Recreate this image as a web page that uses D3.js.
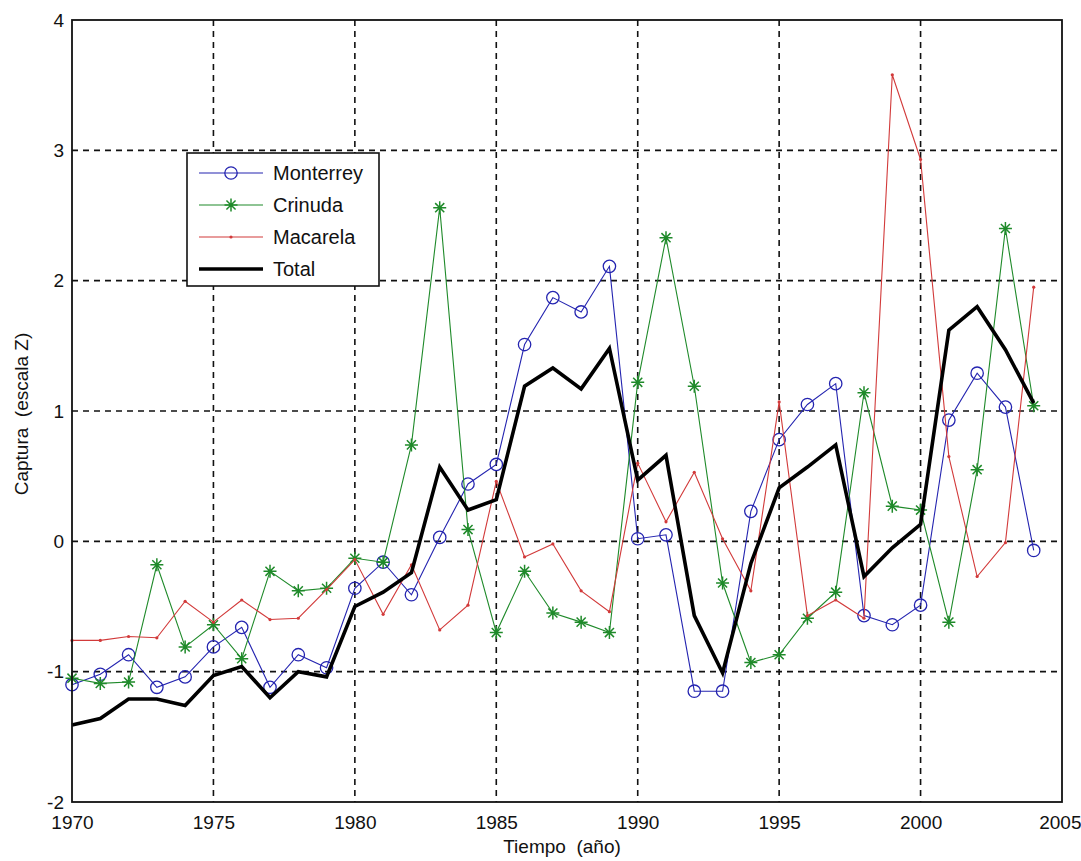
<!DOCTYPE html>
<html>
<head>
<meta charset="utf-8">
<script src="https://cdn.jsdelivr.net/npm/d3@7"></script>
<style>
  html, body { margin: 0; padding: 0; background: #ffffff; }
  svg { display: block; font-family: Arial, "Liberation Sans", sans-serif; }
</style>
</head>
<body>
<svg id="chart" width="1081" height="861"></svg>
<script>
// ---- data ----
const years = d3.range(1970, 2005);
const monterrey = [-1.10,-1.02,-0.87,-1.12,-1.04,-0.81,-0.66,-1.12,-0.87,-0.97,-0.36,-0.16,-0.41,0.03,0.44,0.59,1.51,1.87,1.76,2.11,0.02,0.05,-1.15,-1.15,0.23,0.78,1.05,1.21,-0.57,-0.64,-0.49,0.93,1.29,1.03,-0.07];
const crinuda = [-1.05,-1.09,-1.08,-0.18,-0.81,-0.64,-0.90,-0.23,-0.38,-0.36,-0.13,-0.16,0.74,2.56,0.09,-0.70,-0.23,-0.55,-0.62,-0.70,1.22,2.33,1.19,-0.32,-0.93,-0.87,-0.59,-0.39,1.14,0.27,0.24,-0.62,0.55,2.40,1.04];
const macarela = [-0.76,-0.76,-0.73,-0.74,-0.46,-0.62,-0.45,-0.60,-0.59,-0.37,-0.14,-0.56,-0.18,-0.68,-0.49,0.46,-0.12,-0.02,-0.38,-0.54,0.60,0.15,0.53,0.02,-0.38,1.07,-0.57,-0.45,-0.59,3.58,2.93,0.65,-0.27,-0.01,1.95];
const total = [-1.41,-1.36,-1.21,-1.21,-1.26,-1.03,-0.96,-1.20,-1.00,-1.04,-0.50,-0.39,-0.24,0.57,0.24,0.32,1.19,1.33,1.17,1.48,0.47,0.66,-0.57,-1.01,-0.17,0.41,0.57,0.74,-0.27,-0.05,0.13,1.62,1.80,1.47,1.06];
const xTicks = [1970, 1975, 1980, 1985, 1990, 1995, 2000, 2005];
const yTicks = [-2, -1, 0, 1, 2, 3, 4];
const seriesNames = ["Monterrey", "Crinuda", "Macarela", "Total"];
const xLabel = "Tiempo  (año)";
const yLabel = "Captura  (escala Z)";

// ---- layout ----
const L = 72, R = 1062, T = 20, B = 802;
const svg = d3.select("#chart");
const x = d3.scaleLinear().domain([1970, 2005]).range([L, R]);
const y = d3.scaleLinear().domain([-2, 4]).range([B, T]);

const styles = {
  Monterrey: { color: "#2424b0", width: 1.1, marker: "circle" },
  Crinuda:   { color: "#1f8a2a", width: 1.1, marker: "star" },
  Macarela:  { color: "#d23a3a", width: 1.1, marker: "dot" },
  Total:     { color: "#000000", width: 3.6, marker: "none" }
};
const dataBy = { Monterrey: monterrey, Crinuda: crinuda, Macarela: macarela, Total: total };

// grid
const grid = svg.append("g");
grid.selectAll("line.gx").data(xTicks.slice(1, -1)).join("line")
  .attr("x1", d => x(d)).attr("x2", d => x(d)).attr("y1", T).attr("y2", B)
  .attr("stroke", "#111").attr("stroke-width", 1.6).attr("stroke-dasharray", "6,5");
grid.selectAll("line.gy").data(yTicks.slice(1, -1)).join("line")
  .attr("y1", d => y(d)).attr("y2", d => y(d)).attr("x1", L).attr("x2", R)
  .attr("stroke", "#111").attr("stroke-width", 1.6).attr("stroke-dasharray", "6,5");

// axes
const xAxis = d3.axisBottom(x).tickValues(xTicks).tickFormat(d => String(d)).tickSize(0).tickPadding(14);
const yAxis = d3.axisLeft(y).tickValues(yTicks).tickFormat(d => String(d)).tickSize(0).tickPadding(8);
const gx = svg.append("g").attr("transform", `translate(0,${B})`).call(xAxis);
const gy = svg.append("g").attr("transform", `translate(${L},0)`).call(yAxis);
[gx, gy].forEach(g => {
  g.select(".domain").remove();
  g.selectAll("text").attr("font-size", 19).attr("fill", "#111")
    .attr("font-family", "Arial, 'Liberation Sans', sans-serif");
});
// keep the last x label inside the window
gx.selectAll(".tick").filter(d => d === 2005).select("text").attr("text-anchor", "end").attr("x", 19);

// series
const line = d3.line().x((d, i) => x(years[i])).y(d => y(d));
const starPath = r => `M${-r},0L${r},0M0,${-r}L0,${r}M${-r*0.7},${-r*0.7}L${r*0.7},${r*0.7}M${-r*0.7},${r*0.7}L${r*0.7},${-r*0.7}`;

function drawMarker(g, kind, color, cx, cy) {
  if (kind === "circle") {
    g.append("circle").attr("cx", cx).attr("cy", cy).attr("r", 6.2)
      .attr("fill", "none").attr("stroke", color).attr("stroke-width", 1.3);
  } else if (kind === "star") {
    g.append("path").attr("transform", `translate(${cx},${cy})`).attr("d", starPath(6.5))
      .attr("stroke", color).attr("stroke-width", 1.5).attr("fill", "none");
  } else if (kind === "dot") {
    g.append("circle").attr("cx", cx).attr("cy", cy).attr("r", 1.6).attr("fill", color);
  }
}

const plot = svg.append("g");
seriesNames.forEach(name => {
  const st = styles[name];
  const vals = dataBy[name];
  const g = plot.append("g");
  g.append("path").datum(vals).attr("d", line)
    .attr("fill", "none").attr("stroke", st.color).attr("stroke-width", st.width)
    .attr("stroke-linejoin", "miter");
  vals.forEach((v, i) => drawMarker(g, st.marker, st.color, x(years[i]), y(v)));
});

// frame
svg.append("rect").attr("x", L).attr("y", T).attr("width", R - L).attr("height", B - T)
  .attr("fill", "none").attr("stroke", "#111").attr("stroke-width", 1.8);

// axis labels
svg.append("text").attr("x", 562).attr("y", 853).attr("text-anchor", "middle")
  .attr("font-size", 19).attr("fill", "#111").style("white-space", "pre").text(xLabel);
svg.append("text").attr("transform", `translate(28,414) rotate(-90)`)
  .attr("text-anchor", "middle").attr("font-size", 19).attr("fill", "#111")
  .style("white-space", "pre").text(yLabel);

// legend
const lg = svg.append("g");
lg.append("rect").attr("x", 187).attr("y", 153).attr("width", 192).attr("height", 133)
  .attr("fill", "#fff").attr("stroke", "#111").attr("stroke-width", 1.6);
seriesNames.forEach((name, i) => {
  const st = styles[name];
  const yy = 173 + i * 32;
  lg.append("line").attr("x1", 199).attr("x2", 263).attr("y1", yy).attr("y2", yy)
    .attr("stroke", st.color).attr("stroke-width", st.width);
  drawMarker(lg, st.marker, st.color, 231, yy);
  lg.append("text").attr("x", 273).attr("y", yy + 7).attr("font-size", 20)
    .attr("fill", "#111").text(name);
});
</script>
</body>
</html>
